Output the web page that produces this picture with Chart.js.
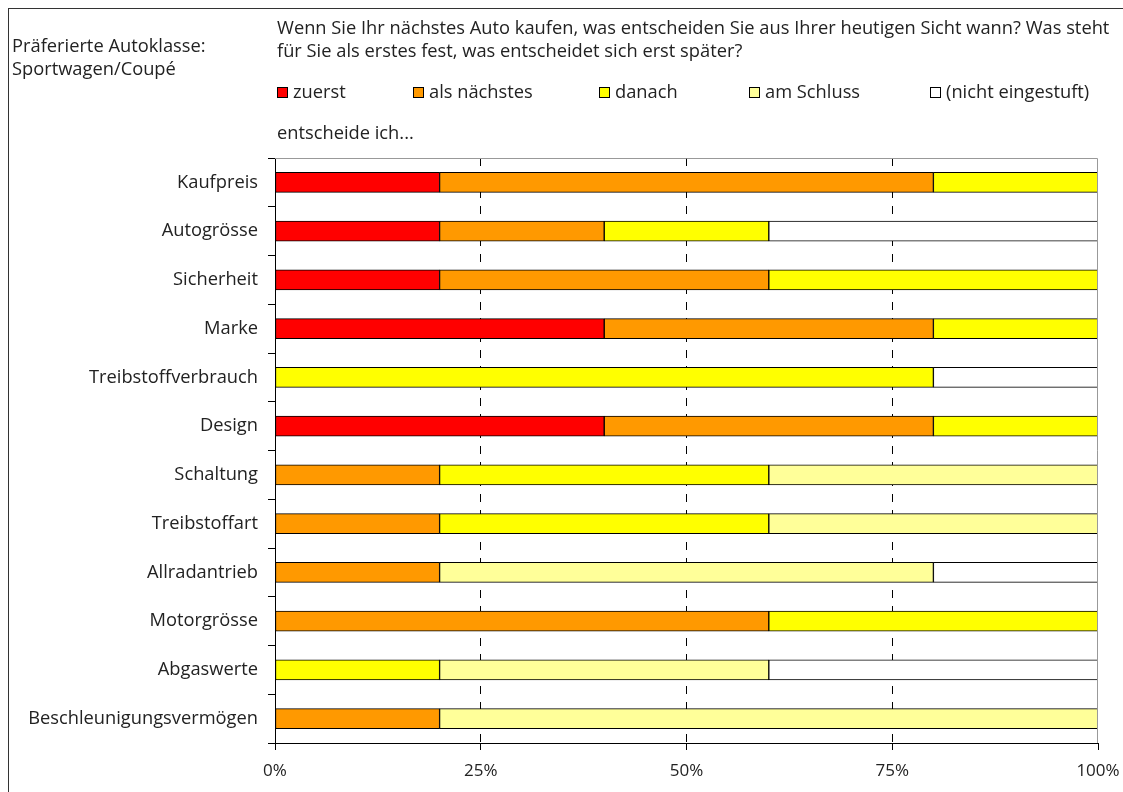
<!DOCTYPE html>
<html>
<head>
<meta charset="utf-8">
<script src="https://cdn.jsdelivr.net/npm/chart.js@4"></script>
<style>
  body { margin: 0; background: #fff; font-family: "Open Sans", sans-serif; color: #222; }
  #page { position: relative; width: 1123px; height: 792px; overflow: hidden; }
  #frame { position: absolute; left: 8px; top: 8px; width: 1200px; height: 900px; border-left: 1px solid #333; border-top: 1px solid #333; }
  .txt { position: absolute; font-size: 18.3px; line-height: 23px; white-space: nowrap; }
  .leg { position: absolute; top: 80px; font-size: 18.3px; line-height: 22px; white-space: nowrap; }
  .leg i { display: inline-block; width: 9px; height: 9px; border: 1px solid #000; margin-right: 5px; vertical-align: 0px; }
  canvas { position: absolute; left: 0; top: 0; }
</style>
</head>
<body>
<div id="page">
  <div id="frame"></div>
  <canvas id="chart" width="1123" height="792"></canvas>
  <div class="txt" style="left:12px; top:33px;">Präferierte Autoklasse:<br>Sportwagen/Coupé</div>
  <div class="txt" style="left:277px; top:15px;">Wenn Sie Ihr nächstes Auto kaufen, was entscheiden Sie aus Ihrer heutigen Sicht wann? Was steht<br>für Sie als erstes fest, was entscheidet sich erst später?</div>
  <div id="legend"></div>
  <div class="txt" style="left:277px; top:120px;">entscheide ich...</div>
</div>
<script>
// categories (top to bottom)
const categories = ['Kaufpreis', 'Autogrösse', 'Sicherheit', 'Marke', 'Treibstoffverbrauch', 'Design',
  'Schaltung', 'Treibstoffart', 'Allradantrieb', 'Motorgrösse', 'Abgaswerte', 'Beschleunigungsvermögen'];

// shares in percent
const zuerst       = [20, 20, 20, 40,  0, 40,  0,  0,  0,  0,  0,  0];
const alsNaechstes = [60, 20, 40, 40,  0, 40, 20, 20, 20, 60,  0, 20];
const danach       = [20, 20, 40, 20, 80, 20, 40, 40,  0, 40, 20,  0];
const amSchluss    = [ 0,  0,  0,  0,  0,  0, 40, 40, 60,  0, 40, 80];
const nichtEingest = [ 0, 40,  0,  0, 20,  0,  0,  0, 20,  0, 40,  0];

const seriesNames = ['zuerst', 'als nächstes', 'danach', 'am Schluss', '(nicht eingestuft)'];
const seriesColors = ['#ff0000', '#ff9900', '#ffff00', '#ffff99', '#ffffff'];
const seriesData = [zuerst, alsNaechstes, danach, amSchluss, nichtEingest];
const xTicks = [0, 25, 50, 75, 100];

// legend in html
const legendX = [277, 413, 599, 749, 930];
const legendEl = document.getElementById('legend');
seriesNames.forEach(function(name, i) {
  const d = document.createElement('div');
  d.className = 'leg';
  d.style.left = legendX[i] + 'px';
  d.innerHTML = '<i style="background:' + seriesColors[i] + '"></i>' + name;
  legendEl.appendChild(d);
});

// gray frame on top and right of the plot area
const plotFrame = {
  id: 'plotFrame',
  afterDatasetsDraw(chart) {
    const a = chart.chartArea, ctx = chart.ctx;
    ctx.save();
    ctx.strokeStyle = '#999';
    ctx.lineWidth = 1;
    ctx.beginPath();
    ctx.moveTo(a.left, a.top + 0.5);
    ctx.lineTo(a.right - 0.5, a.top + 0.5);
    ctx.lineTo(a.right - 0.5, a.bottom);
    ctx.stroke();
    ctx.restore();
  }
};

new Chart(document.getElementById('chart'), {
  type: 'bar',
  data: {
    labels: categories,
    datasets: seriesData.map(function(vals, i) {
      return {
        label: seriesNames[i],
        data: vals.map(v => v === 0 ? null : v),
        backgroundColor: seriesColors[i],
        borderColor: '#000',
        borderWidth: 1,
        borderSkipped: false,
        barThickness: 20
      };
    })
  },
  options: {
    indexAxis: 'y',
    responsive: false,
    animation: false,
    layout: { padding: { top: 158, right: 25, left: 0, bottom: 0 } },
    plugins: { legend: { display: false }, tooltip: { enabled: false } },
    scales: {
      x: {
        stacked: true,
        min: 0,
        max: 100,
        afterBuildTicks: function(scale) { scale.ticks = xTicks.map(v => ({ value: v })); },
        afterFit: function(scale) {
          scale.height = 49;
          scale.paddingLeft = 0;
          scale.paddingRight = 0;
        },
        ticks: {
          callback: v => v + '%',
          color: '#222',
          padding: 11,
          maxRotation: 0,
          font: { family: 'Open Sans', size: 17 }
        },
        grid: {
          color: ctx => (ctx.tick && (ctx.tick.value === 0 || ctx.tick.value === 100)) ? 'rgba(0,0,0,0)' : '#000',
          tickColor: '#000',
          tickLength: 7,
          lineWidth: 1
        },
        border: { color: '#000', dash: [8, 8] }
      },
      y: {
        stacked: true,
        afterFit: function(scale) {
          scale.width = 275;
          scale.paddingTop = 0;
          scale.paddingBottom = 0;
        },
        ticks: {
          color: '#222',
          padding: 10,
          font: { family: 'Open Sans', size: 18.3 }
        },
        grid: {
          drawOnChartArea: false,
          tickColor: '#000',
          tickLength: 7,
          offset: true
        },
        border: { color: '#000' }
      }
    }
  },
  plugins: [plotFrame]
});
</script>
</body>
</html>
